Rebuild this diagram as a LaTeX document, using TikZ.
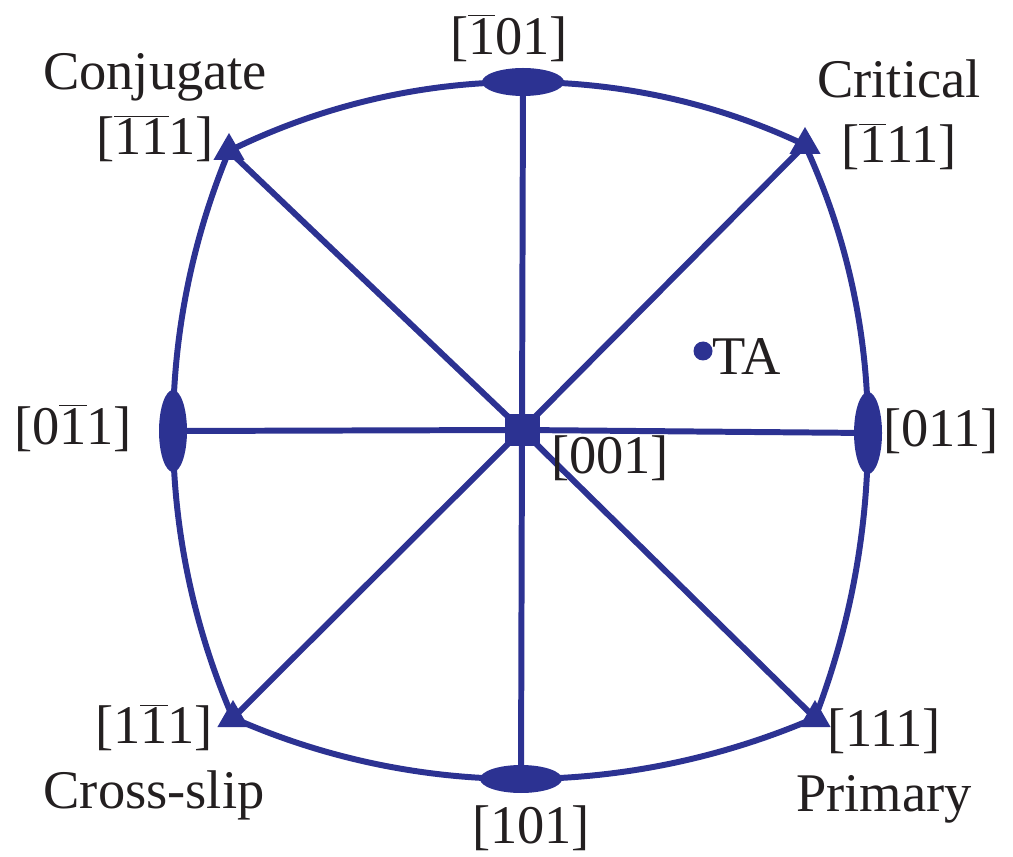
\documentclass[tikz,border=0pt]{standalone}
\usepackage{fontspec}
\setmainfont{Liberation Serif}
\usetikzlibrary{shapes.geometric}
\newcommand{\nbar}[1]{$\overline{\mbox{#1}}$}
\begin{document}
\begin{tikzpicture}[x=0.02cm, y=-0.02cm,
    pole/.style={ellipse, fill=stereoblue, inner sep=0pt},
    hpole/.style={pole, minimum width=1.64cm, minimum height=0.56cm},
    vpole/.style={pole, minimum width=0.56cm, minimum height=1.64cm},
    slip/.style={regular polygon, regular polygon sides=3, fill=stereoblue, inner sep=0pt, minimum size=0.72cm},
    trace/.style={stereoblue, line width=3.4pt, line join=round},
    lbl/.style={text=labelgray, font=\fontsize{31}{37}\selectfont, inner sep=0pt, align=center}]
    % Colours of the projection
    \definecolor{stereoblue}{RGB}{44, 50, 146}   % Traces and poles
    \definecolor{labelgray}{RGB}{35, 31, 32}     % Labels

    \useasboundingbox (0,0) rectangle (1013,857);

    % Poles of the standard triangle
    \node[rectangle, fill=stereoblue, minimum width=0.7cm, minimum height=0.64cm] (p001) at (522,430) {};
    \node[hpole] (pm101) at (523,82) {};
    \node[hpole] (p101) at (521,779) {};
    \node[vpole] (p0m11) at (173,431) {};
    \node[vpole] (p011) at (868,433) {};

    % Slip directions
    \node[slip] (conj) at (229,151) {};
    \node[slip] (crit) at (805,145) {};
    \node[slip] (cross) at (233,718) {};
    \node[slip] (prim) at (815,718) {};

    % Tensile axis
    \node[circle, fill=stereoblue, inner sep=0pt, minimum size=0.38cm] (ta) at (703,351) {};

    % Great circle bounding the projection
    \draw[trace] (conj.center)
        .. controls +(91,-45) and +(-102,0) .. (pm101.center)
        .. controls +(98,0) and +(-88,-42) .. (crit.center)
        .. controls +(42,91) and +(0,-100) .. (p011.center)
        .. controls +(0,98) and +(35,-91) .. (prim.center)
        .. controls +(-93,40) and +(101,0) .. (p101.center)
        .. controls +(-99,0) and +(90,40) .. (cross.center)
        .. controls +(-39,-90) and +(0,99) .. (p0m11.center)
        .. controls +(0,-96) and +(-37,89) .. (conj.center);

    % Spokes from the centre
    \foreach \pole in {pm101, p101, p0m11, p011, conj, crit, cross, prim}
        \draw[trace] (p001.center) -- (\pole.center);

    % Labels
    \node[lbl] (lconj) at (155,108) {Conjugate\\{}[\nbar{1}\nbar{1}1]};
    \node[lbl] (lcrit) at (899,115) {Critical\\{}[\nbar{1}11]};
    \node[lbl] (lcross) at (154,762) {[1\nbar{1}1]\\Cross-slip};
    \node[lbl] (lprim) at (884,766) {[111]\\Primary};
    \node[lbl] (lm101) at (509,38) {[\nbar{1}01]};
    \node[lbl] (l101) at (531,828) {[101]};
    \node[lbl] (l0m11) at (73,428) {[0\nbar{1}1]};
    \node[lbl] (l011) at (941,431) {[011]};
    \node[lbl] (l001) at (610,458) {[001]};
    \node[lbl] (lta) at (747,357) {TA};
\end{tikzpicture}
\end{document}
